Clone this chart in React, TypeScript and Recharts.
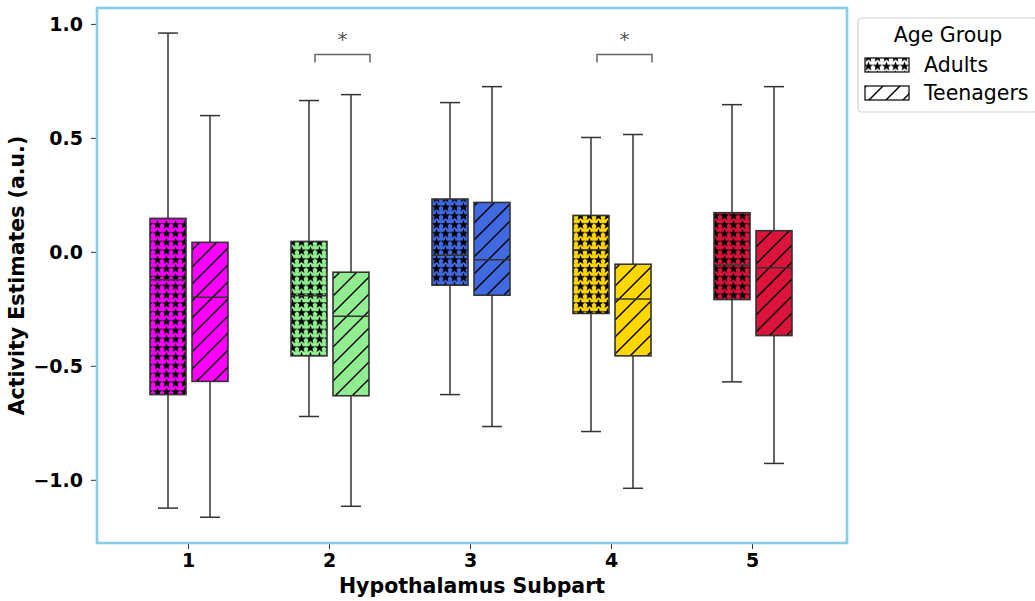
import React from 'react';
import { BarChart, Bar, XAxis, YAxis } from 'recharts';

const categories = ['1', '2', '3', '4', '5'];
const colors = ['#FF00FF', '#90EE90', '#4169E1', '#FFD700', '#DC143C'];

const adultMin = [-1.122, -0.72, -0.624, -0.786, -0.568];
const adultQ1 = [-0.624, -0.454, -0.144, -0.268, -0.207];
const adultMedian = [-0.12, -0.19, -0.013, 0.01, -0.057];
const adultQ3 = [0.149, 0.048, 0.234, 0.162, 0.174];
const adultMax = [0.962, 0.666, 0.657, 0.504, 0.648];

const teenMin = [-1.162, -1.114, -0.764, -1.035, -0.926];
const teenQ1 = [-0.566, -0.629, -0.188, -0.454, -0.365];
const teenMedian = [-0.197, -0.28, -0.032, -0.205, -0.067];
const teenQ3 = [0.044, -0.087, 0.219, -0.052, 0.095];
const teenMax = [0.6, 0.692, 0.727, 0.517, 0.727];

const significant = [false, true, false, true, false];
const bracketLevel = 0.868;
const bracketEnd = 0.833;

const yTicks = [-1.0, -0.5, 0.0, 0.5, 1.0];
const yDomain = [-1.275, 1.072];

const data = categories.map((c, i) => ({
  cat: c,
  color: colors[i],
  sig: significant[i],
  adultBox: [adultQ1[i], adultQ3[i]],
  teenBox: [teenQ1[i], teenQ3[i]],
  adult: { min: adultMin[i], q1: adultQ1[i], med: adultMedian[i], q3: adultQ3[i], max: adultMax[i] },
  teen: { min: teenMin[i], q1: teenQ1[i], med: teenMedian[i], q3: teenQ3[i], max: teenMax[i] },
}));

const FONT = '"DejaVu Sans", sans-serif';

function starPoints(cx: number, cy: number, R: number, r: number) {
  const pts: string[] = [];
  for (let k = 0; k < 10; k++) {
    const ang = -Math.PI / 2 + (k * Math.PI) / 5;
    const rad = k % 2 === 0 ? R : r;
    pts.push(`${(cx + rad * Math.cos(ang)).toFixed(2)},${(cy + rad * Math.sin(ang)).toFixed(2)}`);
  }
  return pts.join(' ');
}

const makeShape = (group: 'adult' | 'teen') => (props: any) => {
  const { x, y, width, height, payload } = props;
  if (x == null || y == null || !payload) return <g />;
  const s = payload[group];
  const top = Math.min(y, y + height);
  const h = Math.abs(height);
  const ppu = h / (s.q3 - s.q1);
  const py = (v: number) => top + (s.q3 - v) * ppu;
  const cx = x + width / 2;
  const capHalf = width / 4 + 1;
  const pat = group === 'adult' ? 'url(#starPat)' : 'url(#hatchPat)';
  const els: any[] = [];
  els.push(<line key="wt" x1={cx} x2={cx} y1={py(s.max)} y2={top} stroke="#333" strokeWidth={1.5} />);
  els.push(<line key="wb" x1={cx} x2={cx} y1={top + h} y2={py(s.min)} stroke="#333" strokeWidth={1.5} />);
  els.push(<line key="ct" x1={cx - capHalf} x2={cx + capHalf} y1={py(s.max)} y2={py(s.max)} stroke="#333" strokeWidth={1.5} />);
  els.push(<line key="cb" x1={cx - capHalf} x2={cx + capHalf} y1={py(s.min)} y2={py(s.min)} stroke="#333" strokeWidth={1.5} />);
  els.push(<rect key="bf" x={x} y={top} width={width} height={h} fill={payload.color} />);
  els.push(<rect key="bp" x={x} y={top} width={width} height={h} fill={pat} />);
  els.push(<rect key="bs" x={x} y={top} width={width} height={h} fill="none" stroke="#333" strokeWidth={1.6} />);
  els.push(<line key="md" x1={x} x2={x + width} y1={py(s.med)} y2={py(s.med)} stroke="#333" strokeWidth={1.5} />);
  if (group === 'teen' && payload.sig) {
    const l = x - 18;
    const r = x + 37;
    const yb = py(bracketLevel);
    const ye = py(bracketEnd);
    els.push(
      <polyline key="br" points={`${l},${ye} ${l},${yb} ${r},${yb} ${r},${ye}`} fill="none" stroke="#666" strokeWidth={1.5} />
    );
    els.push(
      <text key="st" x={(l + r) / 2} y={yb - 9} textAnchor="middle" fontSize={20} fill="#555" fontFamily={FONT}>*</text>
    );
  }
  return <g>{els}</g>;
};

const fmt = (v: number) => (v < 0 ? '\u2212' + Math.abs(v).toFixed(1) : v.toFixed(1));

export default function App() {
  return (
    <div style={{ position: 'absolute', left: 0, top: 0, width: 1035, height: 601, overflow: 'hidden', background: '#fff', fontFamily: FONT }}>
      <svg width={0} height={0} style={{ position: 'absolute' }}>
        <defs>
          <pattern id="starPat" patternUnits="userSpaceOnUse" width={9} height={8.8}>
            <polygon points={starPoints(4.5, 4.8, 5.0, 2.1)} fill="#000" />
          </pattern>
          <pattern id="hatchPat" patternUnits="userSpaceOnUse" width={17} height={17}>
            <line x1={0} y1={17} x2={17} y2={0} stroke="#000" strokeWidth={1.4} />
            <line x1={-2} y1={2} x2={2} y2={-2} stroke="#000" strokeWidth={1.4} />
            <line x1={15} y1={19} x2={19} y2={15} stroke="#000" strokeWidth={1.4} />
          </pattern>
        </defs>
      </svg>
      <BarChart
        width={1035}
        height={601}
        data={data}
        margin={{ top: 8, right: 188, bottom: 0, left: 0 }}
        barGap={6}
        barSize={36}
        style={{ fontFamily: FONT }}
      >
        <XAxis
          dataKey="cat"
          padding={{ left: 21, right: 24 }}
          height={58}
          tickSize={6}
          tickMargin={5}
          axisLine={false}
          tickLine={{ stroke: '#333' }}
          tick={{ fontSize: 19, fontWeight: 'bold', fill: '#000', fontFamily: FONT }}
        />
        <YAxis
          type="number"
          domain={yDomain}
          ticks={yTicks}
          allowDataOverflow
          width={97}
          tickSize={6}
          tickMargin={8}
          axisLine={false}
          tickLine={{ stroke: '#333' }}
          tickFormatter={fmt}
          tick={{ fontSize: 19, fontWeight: 'bold', fill: '#000', fontFamily: FONT }}
        />
        <Bar dataKey="adultBox" isAnimationActive={false} shape={makeShape('adult')} />
        <Bar dataKey="teenBox" isAnimationActive={false} shape={makeShape('teen')} />
      </BarChart>
      <svg width={1035} height={601} style={{ position: 'absolute', left: 0, top: 0, pointerEvents: 'none' }}>
        <rect x={97} y={8} width={750} height={535} fill="none" stroke="#87CEEB" strokeWidth={2.6} />
        <text x={24} y={275.5} transform="rotate(-90 24 275.5)" textAnchor="middle" fontSize={20.5} fontWeight="bold" fontFamily={FONT} fill="#000">
          Activity Estimates (a.u.)
        </text>
        <text x={472} y={593} textAnchor="middle" fontSize={20.5} fontWeight="bold" fontFamily={FONT} fill="#000">
          Hypothalamus Subpart
        </text>
        <rect x={858} y={18} width={180} height={94} rx={4} fill="#fff" stroke="#cfcfcf" strokeWidth={1.2} />
        <text x={948} y={42} textAnchor="middle" fontSize={20.5} fontFamily={FONT} fill="#000">Age Group</text>
        <rect x={865} y={58} width={44} height={14} fill="#fff" />
        <rect x={865} y={58} width={44} height={14} fill="url(#starPat)" />
        <rect x={865} y={58} width={44} height={14} fill="none" stroke="#000" strokeWidth={1.2} />
        <text x={924} y={72} fontSize={20.5} fontFamily={FONT} fill="#000">Adults</text>
        <rect x={865} y={86} width={44} height={14} fill="#fff" />
        <rect x={865} y={86} width={44} height={14} fill="url(#hatchPat)" />
        <rect x={865} y={86} width={44} height={14} fill="none" stroke="#000" strokeWidth={1.2} />
        <text x={924} y={100} fontSize={20.5} fontFamily={FONT} fill="#000">Teenagers</text>
      </svg>
    </div>
  );
}
